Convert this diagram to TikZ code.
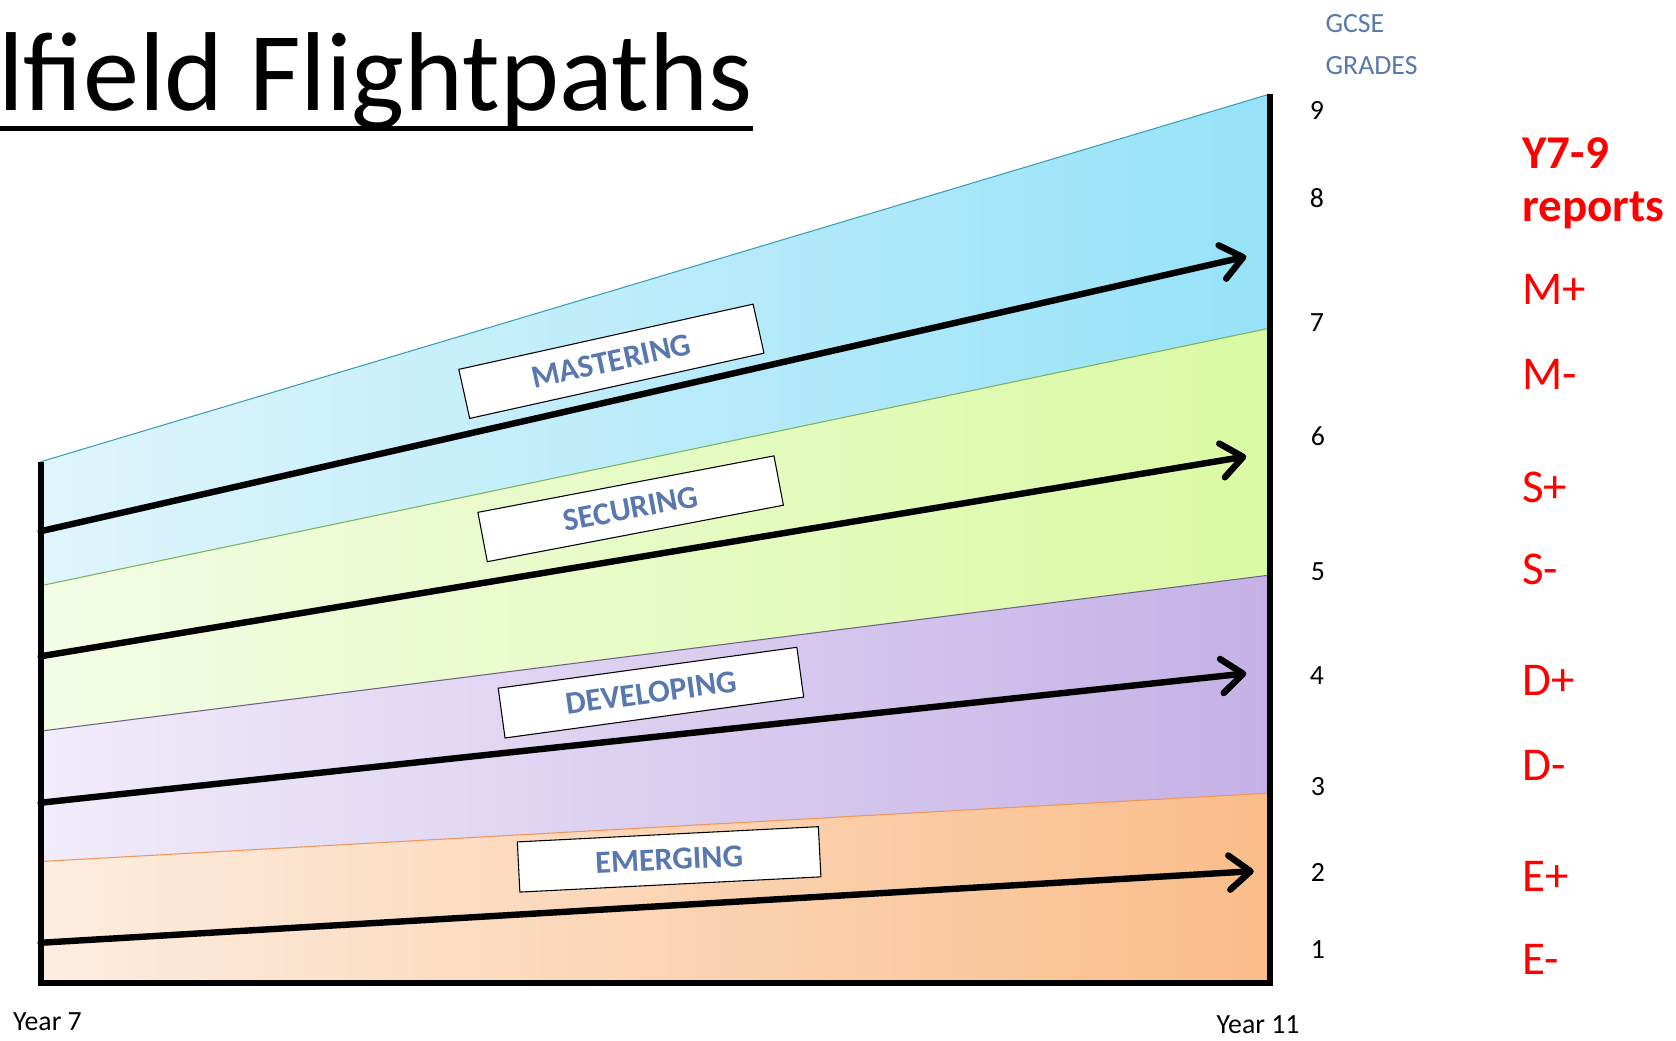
\documentclass[tikz,border=0pt]{standalone}
\usepackage{fontspec}
\setmainfont{Carlito}
\usetikzlibrary{arrows.meta}
\definecolor{bluL}{RGB}{224,245,252}
\definecolor{bluR}{RGB}{150,226,248}
\definecolor{grnL}{RGB}{243,252,230}
\definecolor{grnR}{RGB}{218,250,163}
\definecolor{purL}{RGB}{241,236,250}
\definecolor{purR}{RGB}{197,177,230}
\definecolor{orgL}{RGB}{253,237,224}
\definecolor{orgR}{RGB}{250,189,138}
\definecolor{lnBlu}{RGB}{60,160,180}
\definecolor{lnGrn}{RGB}{120,180,90}
\definecolor{lnPur}{RGB}{110,100,130}
\definecolor{lnOrg}{RGB}{240,150,90}
\definecolor{gradeblue}{RGB}{88,122,170}
\definecolor{labelblue}{RGB}{88,120,175}
\definecolor{repred}{RGB}{255,0,0}
\tikzset{
  bandline/.style={line width=1pt},
  frameline/.style={line width=5.5pt, line join=miter, line cap=butt},
  flight/.style={line width=6pt, line cap=round, -{Straight Barb[length=20pt, width=32pt, line width=6pt, round]}},
  bandbox/.style={draw=black, line width=1pt, fill=white, minimum width=282pt, minimum height=47pt,
    inner sep=0pt, text=labelblue, font=\fontsize{30}{34}\selectfont\bfseries},
  numlab/.style={inner sep=0pt, anchor=center, font=\fontsize{26}{30}\selectfont},
  gcselab/.style={inner sep=0pt, anchor=west, text=gradeblue, font=\fontsize{26}{30}\selectfont},
  redlab/.style={inner sep=0pt, anchor=west, text=repred, font=\fontsize{44}{50}\selectfont},
  redbold/.style={inner sep=0pt, anchor=west, text=repred, font=\fontsize{44}{50}\selectfont\bfseries},
  yearlab/.style={inner sep=0pt, anchor=west, font=\fontsize{26}{30}\selectfont}
}
\begin{document}
\begin{tikzpicture}[x=1pt,y=-1pt]
\fill[white] (0,0) rectangle (1568,973);
\useasboundingbox (0,0) rectangle (1568,973);

% title
\node[anchor=base west, inner sep=0pt, font=\fontsize{105}{110}\selectfont] (title) at (-2,103) {lfield Flightpaths};
\coordinate (ulL) at (0,120);
\draw[line width=4.5pt] (ulL) -- (ulL -| title.east);

% bands
\shade[left color=bluL, right color=bluR] (38,432) -- (1188,88) -- (1188,307) -- (38,548) -- cycle;
\shade[left color=grnL, right color=grnR] (38,548) -- (1188,307) -- (1188,538) -- (38,684) -- cycle;
\shade[left color=purL, right color=purR] (38,684) -- (1188,538) -- (1188,742) -- (38,806) -- cycle;
\shade[left color=orgL, right color=orgR] (38,806) -- (1188,742) -- (1188,920) -- (38,920) -- cycle;
\draw[bandline, lnBlu] (38,432) -- (1188,88);
\draw[bandline, lnGrn] (38,548) -- (1188,307);
\draw[bandline, lnPur] (38,684) -- (1188,538);
\draw[bandline, lnOrg] (38,806) -- (1188,742);

% frame
\draw[frameline] (38,432) -- (38,920) -- (1188,920) -- (1188,88);

% flight paths
\coordinate (m0) at (38,497); \coordinate (m1) at (1166,240);
\coordinate (s0) at (38,614); \coordinate (s1) at (1166,427);
\coordinate (d0) at (38,751); \coordinate (d1) at (1166,630);
\coordinate (e0) at (38,882); \coordinate (e1) at (1173,815);
\draw[flight] (m0) -- (m1);
\draw[flight] (s0) -- (s1);
\draw[flight] (d0) -- (d1);
\draw[flight] (e0) -- (e1);

% labels
\node[bandbox, rotate=12.5] (mast) at (572,338) {MASTERING};
\node[bandbox, rotate=10.8] (secu) at (590,476) {SECURING};
\node[bandbox, rotate=7.8] (deve) at (609,648) {DEVELOPING};
\node[bandbox, rotate=2.9] (emer) at (626,804) {EMERGING};

% GCSE grades
\node[gcselab] (gcse) at (1240,22) {GCSE};
\node[gcselab] (grades) at (1240,61) {GRADES};
\node[numlab] (g9) at (1232,103) {9};
\node[numlab] (g8) at (1232,185) {8};
\node[numlab] (g7) at (1232,302) {7};
\node[numlab] (g6) at (1233,408) {6};
\node[numlab] (g5) at (1233,535) {5};
\node[numlab] (g4) at (1232,632) {4};
\node[numlab] (g3) at (1233,736) {3};
\node[numlab] (g2) at (1233,816) {2};
\node[numlab] (g1) at (1233,888) {1};

% reports
\node[redbold] (y79) at (1424,143) {Y7-9};
\node[redbold] (rep) at (1424,197) {reports};
\node[redlab] (mp) at (1424,271) {M+};
\node[redlab] (mm) at (1424,350) {M-};
\node[redlab] (sp) at (1424,456) {S+};
\node[redlab] (sm) at (1424,533) {S-};
\node[redlab] (dp) at (1424,637) {D+};
\node[redlab] (dm) at (1424,716) {D-};
\node[redlab] (ep) at (1424,820) {E+};
\node[redlab] (em) at (1424,898) {E-};

% years
\node[yearlab] (y7) at (12,956) {Year 7};
\node[yearlab] (y11) at (1138,959) {Year 11};
\end{tikzpicture}
\end{document}
